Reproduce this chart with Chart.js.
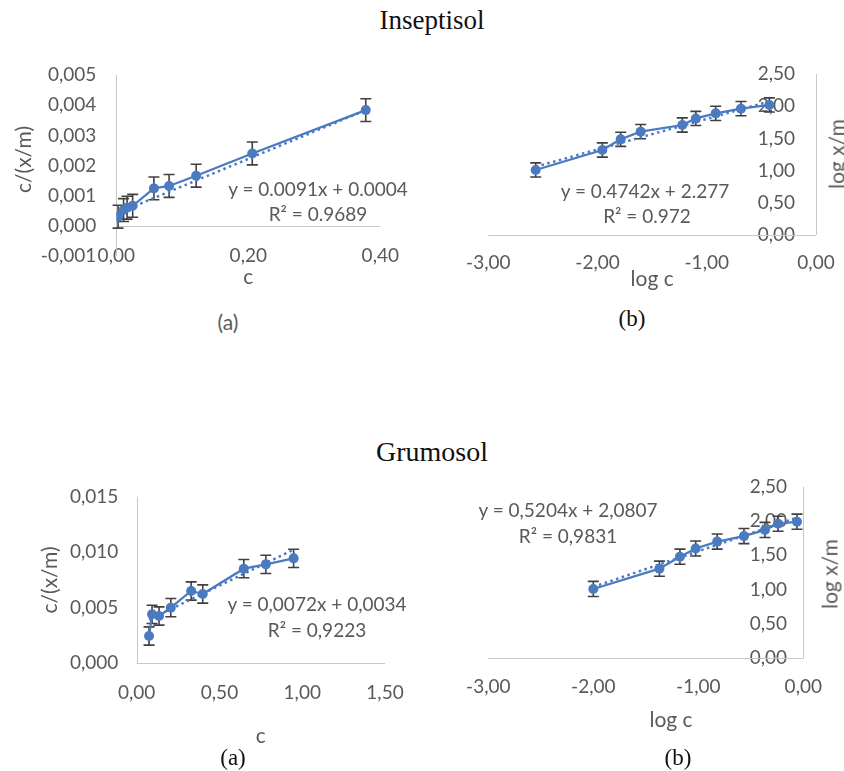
<!DOCTYPE html>
<html>
<head>
<meta charset="utf-8">
<script src="https://cdn.jsdelivr.net/npm/chart.js@4.4.0/dist/chart.umd.min.js"></script>
<style>
html,body{margin:0;padding:0;background:#fff;}
#page{position:relative;width:844px;height:771px;overflow:hidden;background:#fff;}
canvas{position:absolute;}
.t{position:absolute;white-space:nowrap;line-height:1;transform:translate(-50%,-50%);}
.serif{font-family:"Liberation Serif","DejaVu Serif",serif;color:#111;}
.sans{font-family:Lato,"Open Sans",sans-serif;color:#595959;}
.rot{transform:translate(-50%,-50%) rotate(-90deg);}
</style>
</head>
<body>
<div id="page">
  <canvas id="tl"></canvas>
  <canvas id="tr"></canvas>
  <canvas id="bl"></canvas>
  <canvas id="br"></canvas>

  <div class="t serif" style="left:432px;top:20px;font-size:27px;">Inseptisol</div>
  <div class="t serif" style="left:432px;top:452px;font-size:28px;">Grumosol</div>

  <div class="t sans" style="left:228px;top:321px;font-size:21px;">(a)</div>
  <div class="t serif" style="left:632px;top:318px;font-size:23px;">(b)</div>
  <div class="t serif" style="left:233px;top:757px;font-size:23px;">(a)</div>
  <div class="t serif" style="left:678px;top:757px;font-size:23px;">(b)</div>

  <div class="t sans" style="left:318px;top:188px;font-size:19px;">y = 0.0091x + 0.0004</div>
  <div class="t sans" style="left:318px;top:213px;font-size:19px;">R² = 0.9689</div>
  <div class="t sans" style="left:645px;top:190px;font-size:19px;">y = 0.4742x + 2.277</div>
  <div class="t sans" style="left:647px;top:215px;font-size:19px;">R² = 0.972</div>
  <div class="t sans" style="left:317px;top:603px;font-size:19px;">y = 0,0072x + 0,0034</div>
  <div class="t sans" style="left:317px;top:629px;font-size:19px;">R² = 0,9223</div>
  <div class="t sans" style="left:568px;top:509px;font-size:19px;">y = 0,5204x + 2,0807</div>
  <div class="t sans" style="left:568px;top:535px;font-size:19px;">R² = 0,9831</div>

  <div class="t sans rot" style="left:836px;top:154px;font-size:21px;">log x/m</div>
  <div class="t sans rot" style="left:829px;top:574px;font-size:21px;">log x/m</div>
  <div class="t sans" style="left:671px;top:718px;font-size:21px;">log c</div>
</div>
<script>
// ---------- DATA ----------
// Inseptisol, Langmuir (a)
const insC      = [0.0027, 0.011, 0.0163, 0.0248, 0.057, 0.080, 0.121, 0.206, 0.378];
const insCxm    = [0.00030, 0.00052, 0.00060, 0.00066, 0.00124, 0.00132, 0.00166, 0.00240, 0.00384];
const insCxmErr = [0.00038, 0.00038, 0.00038, 0.00038, 0.00038, 0.00038, 0.00038, 0.00038, 0.00038];
const insLangSlope = 0.0091, insLangIntercept = 0.0004;
const insLangXTicks = [0, 0.2, 0.4];
const insLangYTicks = [-0.001, 0, 0.001, 0.002, 0.003, 0.004, 0.005];

// Inseptisol, Freundlich (b)
const insLogC    = [-2.566, -1.956, -1.788, -1.605, -1.224, -1.100, -0.918, -0.687, -0.427];
const insLogXm   = [1.01, 1.32, 1.486, 1.605, 1.708, 1.81, 1.889, 1.962, 2.019];
const insLogXmErr= [0.11, 0.11, 0.11, 0.11, 0.11, 0.11, 0.11, 0.11, 0.11];
const insFrSlope = 0.4742, insFrIntercept = 2.277;
const insFrXTicks = [-3, -2, -1, 0];
const insFrYTicks = [0, 0.5, 1, 1.5, 2, 2.5];

// Grumosol, Langmuir (a)
const gruC      = [0.0746, 0.0927, 0.135, 0.206, 0.329, 0.399, 0.647, 0.780, 0.948];
const gruCxm    = [0.00246, 0.00441, 0.00426, 0.00501, 0.00651, 0.00624, 0.00852, 0.00891, 0.00945];
const gruCxmErr = [0.00082, 0.00082, 0.00082, 0.00082, 0.00082, 0.00082, 0.00082, 0.00082, 0.00082];
const gruLangSlope = 0.0072, gruLangIntercept = 0.0034;
const gruLangXTicks = [0, 0.5, 1, 1.5];
const gruLangYTicks = [0, 0.005, 0.010, 0.015];

// Grumosol, Freundlich (b)
const gruLogC    = [-2.0, -1.37, -1.175, -1.025, -0.82, -0.565, -0.365, -0.24, -0.06];
const gruLogXm   = [1.01, 1.306, 1.48, 1.60, 1.70, 1.78, 1.87, 1.96, 1.99];
const gruLogXmErr= [0.11, 0.11, 0.11, 0.11, 0.11, 0.11, 0.11, 0.11, 0.11];
const gruFrSlope = 0.5204, gruFrIntercept = 2.0807;
const gruFrXTicks = [-3, -2, -1, 0];
const gruFrYTicks = [0, 0.5, 1, 1.5, 2, 2.5];

// ---------- STYLE ----------
Chart.defaults.font.family = "Lato, 'Open Sans', sans-serif";
Chart.defaults.font.size = 19;
Chart.defaults.color = '#595959';
Chart.defaults.animation = false;
const BLUE = '#4A7BC0';
const ERR = '#404040';
const AXIS = '#C8C8C8';

const fmt = dec => v => {
  let s = Number(v).toFixed(dec);
  if (/^-0\.0+$/.test(s)) s = s.slice(1);
  return s.replace('.', ',');
};

const decor = {
  id: 'decor',
  beforeDatasetsDraw(chart, args, o) {
    const {ctx} = chart;
    const x = chart.scales.x, y = chart.scales.y;
    ctx.save();
    ctx.strokeStyle = AXIS; ctx.lineWidth = 1;
    const y0 = Math.round(y.getPixelForValue(0)) + 0.5;
    const x0 = Math.round(x.getPixelForValue(0)) + 0.5;
    ctx.beginPath();
    ctx.moveTo(x.left, y0); ctx.lineTo(x.right, y0);
    ctx.moveTo(x0, y.getPixelForValue(y.max)); ctx.lineTo(x0, y.getPixelForValue(o.yAxisBottom));
    ctx.stroke();
    const ds = chart.data.datasets[0];
    ctx.strokeStyle = ERR; ctx.lineWidth = 1.6;
    ds.data.forEach((p, i) => {
      const e = ds.yErr[i];
      const px = x.getPixelForValue(p.x);
      const pt = y.getPixelForValue(p.y + e);
      const pb = y.getPixelForValue(p.y - e);
      ctx.beginPath();
      ctx.moveTo(px, pt); ctx.lineTo(px, pb);
      ctx.moveTo(px - 5.5, pt); ctx.lineTo(px + 5.5, pt);
      ctx.moveTo(px - 5.5, pb); ctx.lineTo(px + 5.5, pb);
      ctx.stroke();
    });
    ctx.restore();
  }
};

function makeChart(id, c) {
  const cv = document.getElementById(id);
  const [cl, ct, w, h] = c.box;
  cv.style.left = cl + 'px'; cv.style.top = ct + 'px';
  cv.width = w; cv.height = h;
  const L = c.area.l - cl, R = c.area.r - cl, T = c.area.t - ct, B = c.area.b - ct;
  const yRight = c.ySide === 'right';
  const yW = yRight ? w - R : L;
  const xH = h - B;
  const pts = c.xs.map((v, i) => ({x: v, y: c.ys[i]}));
  const xmin = Math.min(...c.xs), xmax = Math.max(...c.xs);
  const trend = [xmin, xmax].map(v => ({x: v, y: c.slope * v + c.intercept}));
  return new Chart(cv, {
    type: 'scatter',
    data: {
      datasets: [
        { data: pts, yErr: c.err, showLine: true, borderColor: BLUE, backgroundColor: BLUE,
          borderWidth: 2.25, pointRadius: 5, pointBorderWidth: 0, pointBackgroundColor: BLUE, order: 0 },
        { data: trend, showLine: true, borderColor: BLUE, borderWidth: 2.5, borderDash: [2.5, 3.5],
          pointRadius: 0, order: 1 }
      ]
    },
    options: {
      responsive: false,
      devicePixelRatio: 1,
      layout: { padding: { top: T, bottom: 0, left: yRight ? L : 0, right: yRight ? 0 : w - R } },
      plugins: { legend: {display: false}, tooltip: {enabled: false}, decor: { yAxisBottom: c.yAxisBottom } },
      scales: {
        x: {
          type: 'linear', position: 'bottom', min: c.xTicks[0], max: c.xTicks[c.xTicks.length - 1],
          afterBuildTicks: s => { s.ticks = c.xTicks.map(v => ({value: v})); },
          afterFit: s => { s.height = xH; },
          grid: {display: false, drawTicks: true, tickLength: c.xPad}, border: {display: false},
          ticks: { padding: 0, maxRotation: 0, minRotation: 0, autoSkip: false, callback: fmt(c.xDec) },
          title: c.xTitle ? { display: true, text: c.xTitle, font: {size: 21}, padding: {top: 0, bottom: c.xTitlePad} } : {display: false}
        },
        y: {
          type: 'linear', position: c.ySide,
          min: (c.yMin !== undefined ? c.yMin : c.yTicks[0]), max: c.yTicks[c.yTicks.length - 1],
          afterBuildTicks: s => { s.ticks = c.yTicks.map(v => ({value: v})); },
          afterFit: s => { s.width = yW; },
          grid: yRight ? {display: false, drawTicks: false} : {display: false, drawTicks: true, tickLength: c.yPad},
          border: {display: false},
          ticks: { padding: yRight ? c.yPad : 0, mirror: yRight, autoSkip: false, callback: fmt(c.yDec) },
          title: c.yTitle ? { display: true, text: c.yTitle, font: {size: 21}, padding: {top: c.yTitlePad, bottom: 0} } : {display: false}
        }
      }
    },
    plugins: [decor]
  });
}

makeChart('tl', {
  box: [0, 50, 420, 250], area: {l: 116.3, r: 380.3, t: 75.2, b: 243.76}, ySide: 'left', yMin: -0.0006,
  xs: insC, ys: insCxm, err: insCxmErr, slope: insLangSlope, intercept: insLangIntercept,
  xTicks: insLangXTicks, yTicks: insLangYTicks, xDec: 2, yDec: 3,
  xPad: 0.4, yPad: 20, xTitle: 'c', xTitlePad: 10.4, yTitle: 'c/(x/m)', yTitlePad: 11.4, yAxisBottom: -0.001
});
makeChart('tr', {
  box: [440, 50, 404, 250], area: {l: 488.3, r: 816, t: 74, b: 235}, ySide: 'right',
  xs: insLogC, ys: insLogXm, err: insLogXmErr, slope: insFrSlope, intercept: insFrIntercept,
  xTicks: insFrXTicks, yTicks: insFrYTicks, xDec: 2, yDec: 2,
  xPad: 16.9, yPad: -21, xTitle: 'log c', xTitlePad: 8.4, yTitle: null, yAxisBottom: 0
});
makeChart('bl', {
  box: [0, 480, 420, 270], area: {l: 136.7, r: 385, t: 496.7, b: 663.3}, ySide: 'left',
  xs: gruC, ys: gruCxm, err: gruCxmErr, slope: gruLangSlope, intercept: gruLangIntercept,
  xTicks: gruLangXTicks, yTicks: gruLangYTicks, xDec: 2, yDec: 3,
  xPad: 18.6, yPad: 18.4, xTitle: 'c', xTitlePad: 1.4, yTitle: 'c/(x/m)', yTitlePad: 37.4, yAxisBottom: 0
});
makeChart('br', {
  box: [440, 470, 404, 280], area: {l: 488.3, r: 803.3, t: 486.7, b: 658.3}, ySide: 'right',
  xs: gruLogC, ys: gruLogXm, err: gruLogXmErr, slope: gruFrSlope, intercept: gruFrIntercept,
  xTicks: gruFrXTicks, yTicks: gruFrYTicks, xDec: 2, yDec: 2,
  xPad: 17.0, yPad: -16.3, xTitle: null, yTitle: null, yAxisBottom: 0
});
</script>
</body>
</html>
